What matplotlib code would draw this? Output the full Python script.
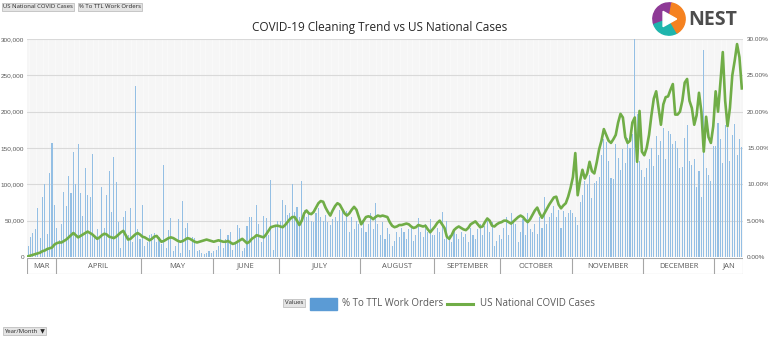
import numpy as np
import matplotlib
matplotlib.use('Agg')
import matplotlib.pyplot as plt
from matplotlib.patches import Rectangle, Wedge, Polygon
from matplotlib.lines import Line2D

plt.rcParams['font.family'] = ['Open Sans', 'DejaVu Sans']

months = ['MAR', 'APRIL', 'MAY', 'JUNE', 'JULY', 'AUGUST', 'SEPTEMBER',
          'OCTOBER', 'NOVEMBER', 'DECEMBER', 'JAN']

# % To TTL Work Orders (right axis), one value per category, by month
pct_mar = [1.5, 2.8, 3.3, 3.8, 6.7, 2.6, 8.3, 10.0, 3.2, 11.5, 15.7, 7.2]
pct_apr = [4.0, 2.3, 4.6, 8.9, 7.0, 11.2, 8.8, 14.5, 10.0, 15.6, 8.8, 5.7,
           12.2, 8.5, 8.2, 14.2, 3.0, 3.8, 2.5, 9.7, 4.0, 8.6, 11.8, 6.2,
           13.8, 10.3, 4.8, 1.2, 5.5, 6.3, 3.0, 6.7, 2.0, 23.5, 3.8, 2.5]
pct_may = [7.1, 1.5, 2.0, 3.0, 3.2, 3.3, 2.0, 2.7, 1.8, 12.7, 1.2, 3.7,
           5.3, 0.8, 1.5, 5.2, 0.5, 7.7, 4.0, 4.7, 1.0, 2.7, 2.6, 0.8,
           0.9, 0.5, 0.4, 0.6, 0.8, 0.6]
pct_jun = [0.8, 1.0, 1.5, 3.9, 1.2, 2.5, 3.0, 3.5, 1.0, 2.0, 4.4, 4.0,
           0.8, 1.2, 4.2, 5.5, 5.5, 2.5, 7.1, 4.6, 2.0, 5.7, 5.4, 3.0,
           10.6, 1.0, 4.2, 5.0]
pct_jul = [5.0, 7.8, 7.1, 5.8, 6.0, 10.0, 6.2, 6.9, 5.5, 10.4, 6.5, 5.5,
           6.2, 5.0, 4.8, 6.0, 6.8, 5.5, 5.0, 5.8, 4.8, 4.4, 5.2, 5.5,
           5.0, 6.5, 6.5, 5.0, 6.3, 3.5, 5.5, 3.8, 5.0, 4.5]
pct_aug = [4.0, 5.0, 3.5, 4.5, 6.0, 3.8, 7.4, 4.5, 3.0, 4.8, 2.5, 4.0,
           3.2, 1.5, 2.2, 3.5, 2.8, 4.0, 3.5, 2.5, 3.8, 4.2, 2.2, 3.0,
           5.3, 3.5, 2.8, 4.5, 3.5, 5.2, 3.0]
pct_sep = [3.0, 4.0, 3.5, 6.2, 2.5, 5.0, 3.0, 2.0, 3.8, 3.2, 2.5, 3.5,
           2.8, 3.2, 2.0, 4.0, 3.0, 2.5, 3.8, 4.5, 3.0, 4.2, 5.0, 3.5,
           4.8, 1.5, 2.2, 3.0]
pct_oct = [2.5, 4.0, 5.5, 3.0, 6.0, 5.0, 4.5, 2.0, 3.5, 5.2, 3.0, 6.0,
           3.8, 3.5, 4.5, 3.2, 5.5, 4.0, 8.2, 4.5, 5.5, 6.0, 7.0, 5.5,
           6.5, 4.0, 6.3, 5.5, 6.0, 6.5]
pct_nov = [6.0, 5.5, 4.4, 7.6, 8.5, 10.4, 10.0, 11.3, 8.1, 10.2, 10.4, 11.0,
           14.1, 16.2, 15.8, 13.2, 10.9, 10.8, 15.5, 13.6, 12.0, 14.8, 13.0, 16.4,
           15.0, 16.9, 30.0, 19.7, 13.2, 12.0]
pct_dec = [11.0, 12.3, 13.5, 15.0, 12.5, 16.6, 14.0, 16.0, 17.7, 13.5, 17.3, 16.9,
           15.5, 16.0, 15.0, 12.2, 12.4, 16.4, 18.2, 13.2, 12.7, 13.5, 9.7, 11.8,
           8.3, 28.5, 12.2, 11.3, 10.4, 15.3]
pct_jan = [15.3, 18.5, 16.3, 13.0, 18.2, 17.8, 13.2, 16.8, 18.3, 14.0, 16.2, 15.2]

# US National COVID Cases (left axis), thousands of cases per category
cases_mar = [1, 2, 3, 4, 5, 6, 8, 9, 11, 12, 13, 17]
cases_apr = [19, 20, 20, 22, 24, 27, 30, 33, 30, 27, 29, 31, 33, 35, 33, 31,
             28, 25, 27, 30, 32, 31, 28, 27, 26, 28, 31, 34, 36, 30, 24, 25,
             28, 31, 33, 31]
cases_may = [28, 27, 25, 23, 25, 28, 29, 25, 21, 22, 24, 26, 27, 26, 24, 22,
             21, 22, 24, 26, 25, 23, 21, 20, 21, 22, 23, 24, 23, 22]
cases_jun = [21, 22, 23, 22, 21, 21, 22, 20, 18, 19, 21, 23, 25, 22, 19, 21,
             25, 27, 30, 29, 28, 27, 31, 36, 41, 42, 43, 43]
cases_jul = [42, 41, 44, 48, 52, 55, 55, 50, 44, 50, 60, 64, 60, 59, 62, 68,
             74, 77, 76, 68, 62, 57, 64, 70, 74, 72, 66, 60, 57, 60, 65, 69,
             65, 55]
cases_aug = [45, 50, 55, 56, 55, 52, 55, 57, 56, 57, 56, 55, 48, 43, 41, 42,
             44, 44, 45, 46, 45, 42, 40, 41, 44, 43, 42, 43, 38, 34, 38]
cases_sep = [42, 47, 50, 45, 40, 28, 25, 30, 37, 40, 42, 40, 38, 37, 40, 45,
             47, 49, 45, 41, 42, 48, 53, 50, 43, 42, 45, 47]
cases_oct = [48, 50, 50, 48, 46, 49, 52, 55, 57, 55, 51, 48, 52, 58, 64, 68,
             60, 54, 60, 66, 72, 77, 82, 83, 72, 67, 71, 74, 83, 95]
cases_nov = [110, 143, 85, 105, 120, 108, 115, 131, 118, 115, 130, 148, 160, 176,
             168, 160, 157, 162, 168, 185, 197, 192, 165, 157, 160, 185, 192, 131,
             201, 145]
cases_dec = [140, 150, 168, 195, 218, 228, 205, 182, 210, 220, 221, 230, 238, 196,
             196, 200, 215, 240, 245, 215, 205, 182, 195, 226, 200, 145, 193, 165,
             157, 180]
cases_jan = [228, 200, 240, 282, 215, 180, 205, 250, 270, 293, 275, 232]

pct_by_month = [pct_mar, pct_apr, pct_may, pct_jun, pct_jul, pct_aug, pct_sep,
                pct_oct, pct_nov, pct_dec, pct_jan]
cases_by_month = [cases_mar, cases_apr, cases_may, cases_jun, cases_jul, cases_aug,
                  cases_sep, cases_oct, cases_nov, cases_dec, cases_jan]

pct = np.concatenate(pct_by_month)
cases = np.concatenate(cases_by_month) * 1000
n = len(pct)
x = np.arange(n)
counts = [len(m) for m in pct_by_month]
edges = np.concatenate([[0], np.cumsum(counts)]) - 0.5

W, H = 768, 339
fig = plt.figure(figsize=(W / 100, H / 100), dpi=100)
tickfont = dict(family='Liberation Sans', size=4.6)

ax = fig.add_axes([27 / W, 1 - 257 / H, 716 / W, 218 / H])
ax.set_facecolor('#f9f9f9')
ax.vlines(x, 0, 30, color='#efefef', lw=0.3, zorder=0)
ax.bar(x, pct, width=0.45, color='#94bfe4', edgecolor='none', zorder=2)
ax.set_xlim(-0.5, n - 0.5)
ax.set_ylim(0, 30)
ax.grid(axis='y', color='#d9d9d9', lw=0.8, zorder=1)
ax.set_axisbelow(True)
ax.set_xticks([])
for s in ax.spines.values():
    s.set_visible(False)

ax2 = ax.twinx()
ax2.plot(x, cases, color='#70ad47', lw=1.9, solid_joinstyle='round', zorder=3)
ax2.set_ylim(0, 300000)
ax2.set_yticks(np.arange(0, 300001, 50000))
ax2.set_yticklabels(['{:,}'.format(v) for v in range(0, 300001, 50000)],
                    fontdict=tickfont)
ax2.yaxis.tick_left()
ax2.tick_params(axis='y', length=0, labelcolor='#595959', pad=2)
for s in ax2.spines.values():
    s.set_visible(False)

# bars' axis on the right (set after twinx, which resets it)
ax.yaxis.tick_right()
ax.set_yticks(np.arange(0, 31, 5))
ax.set_yticklabels(['{:.2f}%'.format(v) for v in np.arange(0, 31, 5)],
                   fontdict=tickfont)
ax.tick_params(axis='y', length=0, labelcolor='#595959', pad=3)

# month category strip
axm = fig.add_axes([27 / W, 1 - 274 / H, 716 / W, 16 / H])
axm.set_xlim(-0.5, n - 0.5)
axm.set_ylim(0, 1)
axm.axis('off')
axm.add_patch(Rectangle((-0.5, 0), n, 1, fill=False, ec='#a6a6a6', lw=0.8))
for e in edges[1:-1]:
    axm.plot([e, e], [0, 1], color='#a6a6a6', lw=0.8)
for i, m in enumerate(months):
    axm.text((edges[i] + edges[i + 1]) / 2, 0.5, m, ha='center', va='center',
             fontsize=5.5, color='#595959')

fig.text(380 / W, 1 - 27 / H, 'COVID-19 Cleaning Trend vs US National Cases',
         ha='center', va='center', fontsize=8.5, color='#262626')

# pivot field buttons
btn = dict(boxstyle='square,pad=0.25', fc='#e4e4e4', ec='#b5b5b5', lw=0.5)
fig.text(3 / W, 1 - 7 / H, 'US National COVID Cases', fontsize=4.3, va='center',
         color='#262626', bbox=btn)
fig.text(79 / W, 1 - 7 / H, '% To TTL Work Orders', fontsize=4.3, va='center',
         color='#262626', bbox=btn)
fig.text(4 / W, 1 - 331 / H, 'Year/Month  \u25bc', fontsize=4.3, va='center',
         color='#262626', bbox=btn)
fig.text(294 / W, 1 - 303 / H, 'Values', fontsize=4.3, va='center', ha='center',
         color='#262626', bbox=btn)

# legend
fig.patches.append(Rectangle((310 / W, 1 - 310 / H), 27 / W, 12 / H,
                             transform=fig.transFigure, color='#5b9bd5'))
fig.text(342 / W, 1 - 304 / H, '% To TTL Work Orders', fontsize=7,
         va='center', color='#595959')
fig.lines.append(Line2D([447 / W, 473 / W], [1 - 304 / H] * 2, transform=fig.transFigure,
                        color='#70ad47', lw=2.2))
fig.text(480 / W, 1 - 304 / H, 'US National COVID Cases', fontsize=7,
         va='center', color='#595959')

# NEST logo
axl = fig.add_axes([652 / W, 1 - 36 / H, 34 / W, 34 / H])
axl.set_xlim(-1, 1)
axl.set_ylim(-1, 1)
axl.set_aspect('equal')
axl.axis('off')
axl.add_patch(Wedge((0, 0), 0.95, 80, 200, color='#8e3a96'))
axl.add_patch(Wedge((0, 0), 0.95, 200, 300, color='#1fb5ad'))
axl.add_patch(Wedge((0, 0), 0.95, 300, 440, color='#f58220'))
axl.add_patch(Polygon([[-0.35, 0.45], [-0.35, -0.45], [0.45, 0]], color='white'))
fig.text(688 / W, 1 - 20 / H, 'NEST', fontsize=14, fontweight='bold',
         va='center', color='#4d4d4d')

fig.savefig('out.png', dpi=100)
